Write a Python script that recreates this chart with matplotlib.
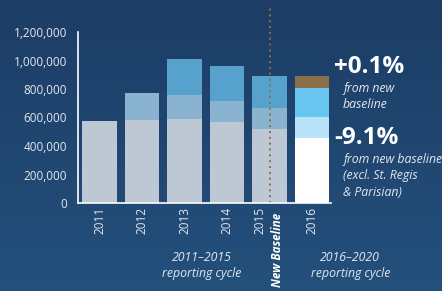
import matplotlib
matplotlib.use('Agg')
import matplotlib.pyplot as plt
from matplotlib.colors import LinearSegmentedColormap
import numpy as np

# data
years = ['2011', '2012', '2013', '2014', '2015', '2016']
base = [575000, 582000, 589000, 568000, 519000]
mid = [0, 190000, 169000, 148000, 148000]
top = [0, 0, 252000, 245000, 224000]
new_white = 456000
new_light = 148000
new_blue = 203000
new_brown = 84000
yticks = [0, 200000, 400000, 600000, 800000, 1000000, 1200000]

plt.rcParams['font.family'] = ['Open Sans', 'DejaVu Sans']
txt = '#e3e8ee'

fig = plt.figure(figsize=(4.42, 2.91), dpi=100)
bg = fig.add_axes([0, 0, 1, 1])
grad = np.linspace(0, 1, 100).reshape(-1, 1)
cmap = LinearSegmentedColormap.from_list('bg', ['#1c3d66', '#24507c'])
bg.imshow(grad, aspect='auto', cmap=cmap, extent=[0, 1, 0, 1])
bg.axis('off')

ax = fig.add_axes([78 / 442, 88 / 291, 253 / 442, 171 / 291])
ax.patch.set_alpha(0)
x = np.arange(5)
w = 0.82
ax.bar(x, base, w, color='#bdc8d4')
ax.bar(x, mid, w, bottom=base, color='#8ab3cf')
b2 = np.array(base) + np.array(mid)
ax.bar(x, top, w, bottom=b2, color='#56a2cc')

ax.bar(5, new_white, w, color='white')
ax.bar(5, new_light, w, bottom=new_white, color='#b9e3f8')
ax.bar(5, new_blue, w, bottom=new_white + new_light, color='#6bc5f1')
ax.bar(5, new_brown, w, bottom=new_white + new_light + new_blue, color='#8a7048')

ax.set_xlim(-0.506, 5.447)
ax.set_ylim(0, 1200000)
ax.set_yticks(yticks)
ax.set_yticklabels(['{:,}'.format(v) for v in yticks], color=txt, fontsize=8.5)
ax.tick_params(axis='y', length=0, pad=8)
ax.set_xticks([])
for s in ['top', 'right']:
    ax.spines[s].set_visible(False)
ax.spines['left'].set_color('white')
ax.spines['bottom'].set_color('white')
ax.spines['left'].set_linewidth(1.2)
ax.spines['bottom'].set_linewidth(1.2)

# year labels
label_x = [0, 1, 2, 3, 3.78, 5]
for xi, yr in zip(label_x, years):
    ax.text(xi, -25000, yr, rotation=90, ha='center', va='top', color=txt,
            fontsize=8.5)

# dotted new baseline line
ax.plot([4, 4], [0, 1368000], color='#8a7048', lw=1.4, ls=(0, (1, 2)),
        clip_on=False)
ax.text(4.18, -70000, 'New Baseline', rotation=90, ha='center', va='top',
        color='white', fontsize=8.5, fontweight='bold', style='italic')

ax.text(2.4, -335000, '2011\u20132015\nreporting cycle', ha='center', va='top',
        color=txt, fontsize=8.8, style='italic', linespacing=1.3)
ax.text(5.9, -335000, '2016\u20132020\nreporting cycle', ha='center', va='top',
        color=txt, fontsize=8.8, style='italic', linespacing=1.3)

fig.text(334 / 442, 1 - 67 / 291, '+0.1%', color='white', fontsize=17.5,
         fontweight='bold', va='center', ha='left')
fig.text(343 / 442, 1 - 97 / 291, 'from new\nbaseline', color=txt,
         fontsize=8.8, style='italic', va='center', ha='left', linespacing=1.3)
fig.text(334 / 442, 1 - 138 / 291, '-9.1%', color='white', fontsize=17.5,
         fontweight='bold', va='center', ha='left')
fig.text(343 / 442, 1 - 176 / 291, 'from new baseline\n(excl. St. Regis\n& Parisian)',
         color=txt, fontsize=8.8, style='italic', va='center', ha='left',
         linespacing=1.3)

fig.savefig('out.png', dpi=100)
